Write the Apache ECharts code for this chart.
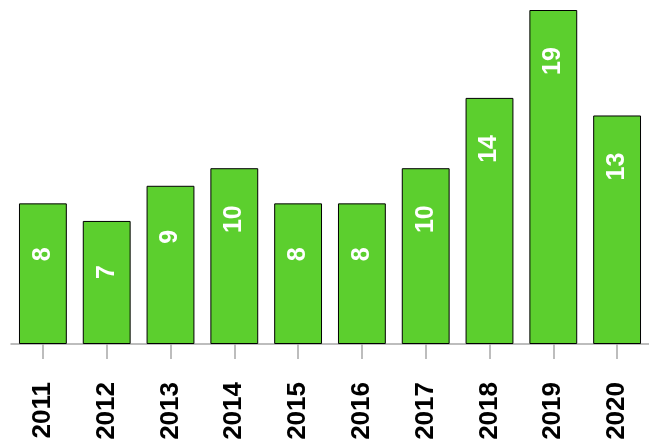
<!DOCTYPE html>
<html>
<head>
<meta charset="utf-8">
<script src="https://cdn.jsdelivr.net/npm/echarts@6/dist/echarts.min.js"></script>
<style>
  html, body { margin: 0; padding: 0; background: #fff; }
  #chart { width: 649px; height: 447px; }
</style>
</head>
<body>
<div id="chart"></div>
<script>
// years and counts
const years = ['2011', '2012', '2013', '2014', '2015', '2016', '2017', '2018', '2019', '2020']
const counts = [8, 7, 9, 10, 8, 8, 10, 14, 19, 13]

let chart = echarts.init(document.getElementById('chart'))
let option = {
    animation: false,
    grid: { left: 11, right: -2, top: 10, bottom: 103, containLabel: false },
    xAxis: {
        type: 'category',
        data: years,
        axisLine: { lineStyle: { color: '#a8a8a8', width: 1.5 } },
        axisTick: { show: true, length: 15, alignWithLabel: true, lineStyle: { color: '#a8a8a8', width: 1.5 } },
        axisLabel: {
            rotate: 90,
            margin: 38,
            color: '#000',
            fontFamily: 'Liberation Sans',
            fontWeight: 'bold',
            fontSize: 26
        }
    },
    yAxis: {
        type: 'value',
        min: 0,
        max: 19,
        show: false
    },
    series: [{
        type: 'bar',
        data: counts,
        barWidth: '75%',
        itemStyle: { color: '#5ccf2e', borderColor: '#000', borderWidth: 1 },
        label: {
            show: true,
            position: ['50%', 51],
            rotate: 90,
            align: 'center',
            verticalAlign: 'middle',
            color: '#fff',
            fontFamily: 'Liberation Sans',
            fontWeight: 'bold',
            fontSize: 25
        }
    }]
}
chart.setOption(option)
</script>
</body>
</html>
